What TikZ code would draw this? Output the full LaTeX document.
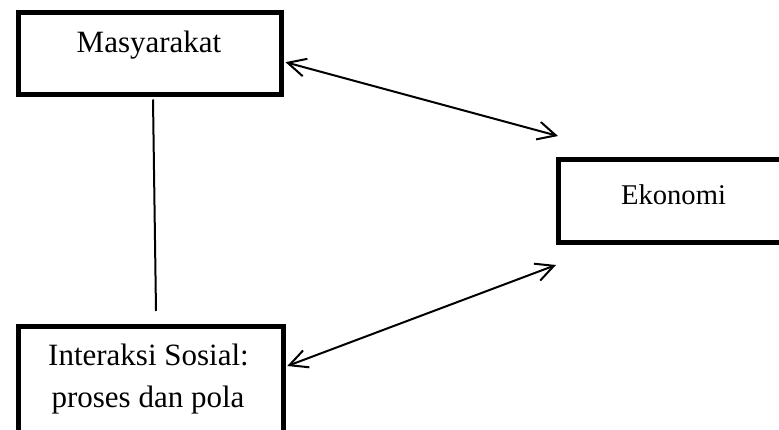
\documentclass[tikz,border=0pt]{standalone}
\usepackage{fontspec}
\setmainfont{Liberation Serif}
\usetikzlibrary{arrows.meta,calc}

\begin{document}
\begin{tikzpicture}[x=1pt,y=-1pt,
  box/.style={draw=black,line width=5pt,rectangle,inner sep=0pt},
  label/.style={font=\fontsize{31}{43}\selectfont,anchor=base,inner sep=0pt},
  link/.style={draw=black,line width=2pt,{Straight Barb[length=18pt,width=18pt]}-{Straight Barb[length=18pt,width=18pt]}},
  plain/.style={draw=black,line width=2pt}]
\useasboundingbox (0,0) rectangle (779,430);
\clip (0,0) rectangle (779,430);

% boxes
\node[box,minimum width=263pt,minimum height=82pt] (masy) at (149.5,53.5) {};
\node[box,minimum width=260pt,minimum height=82.5pt,anchor=north west] (eko) at (556,157.5) {};
\node[box,minimum width=265pt,minimum height=130pt,anchor=north west] (inter) at (15.8,324) {};

% labels
\node[label] (tmasy) at (149,53) {Masyarakat};
\node[label,font=\fontsize{28.6}{34}\selectfont] (teko) at (673.5,205) {Ekonomi};
\node[label] (tinter1) at (148.5,365) {Interaksi Sosial:};
\node[label] (tinter2) at (148,407) {proses dan pola};

% connectors
\coordinate (m1) at ($(masy.north east)!0.6!(masy.south east)+(2,0)$);
\coordinate (e1) at ($(eko.north west)+(2,-21.5)$);
\coordinate (e2) at ($(eko.south west)+(0,20)$);
\coordinate (i1) at ($(inter.north east)+(1.5,42)$);
\draw[link] (m1) -- (e1);
\draw[link] (i1) -- (e2);
\draw[plain] ($(masy.south)+(3.5,2.5)$) -- ($(inter.north)+(5.2,-13)$);
\end{tikzpicture}
\end{document}
